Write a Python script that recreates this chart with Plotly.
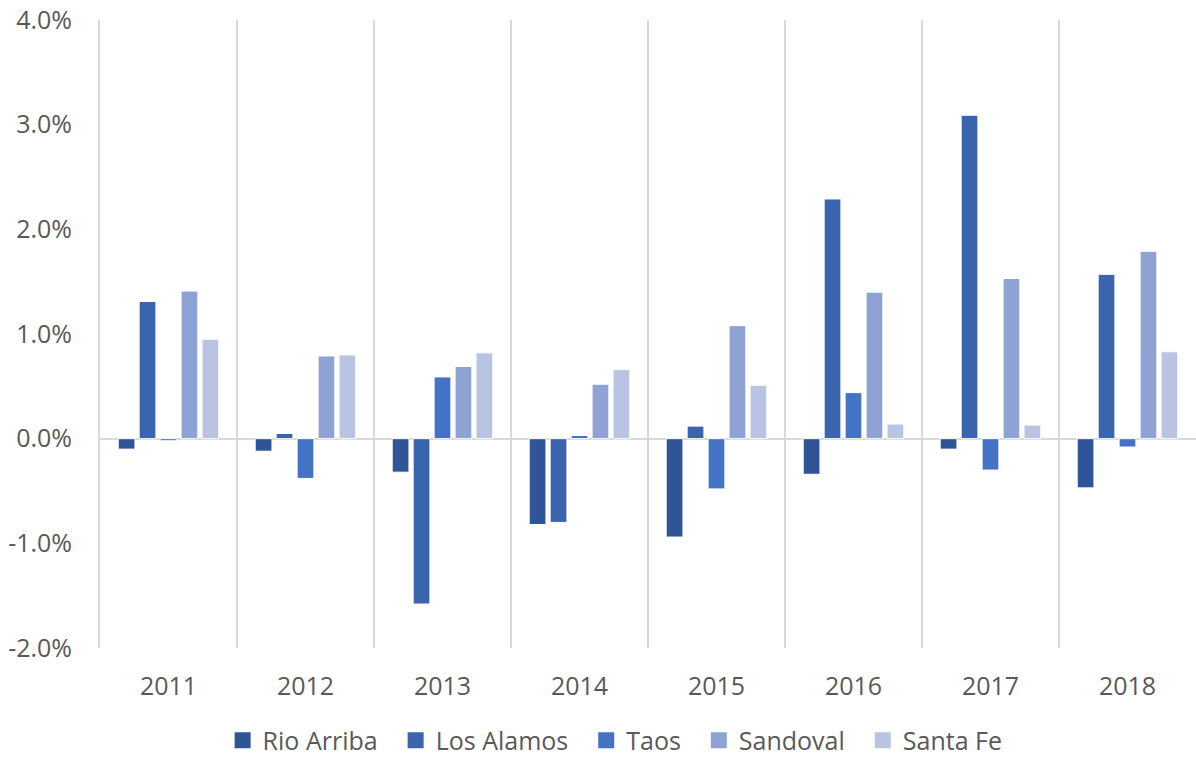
import plotly.graph_objects as go

years = ["2011", "2012", "2013", "2014", "2015", "2016", "2017", "2018"]
rio_arriba = [-0.0010, -0.0012, -0.0032, -0.0082, -0.0094, -0.0034, -0.0010, -0.0047]
los_alamos = [0.0131, 0.0005, -0.0158, -0.0080, 0.0012, 0.0229, 0.0309, 0.0157]
taos = [-0.0002, -0.0038, 0.0059, 0.0003, -0.0048, 0.0044, -0.0030, -0.0008]
sandoval = [0.0141, 0.0079, 0.0069, 0.0052, 0.0108, 0.0140, 0.0153, 0.0179]
santa_fe = [0.0095, 0.0080, 0.0082, 0.0066, 0.0051, 0.0014, 0.0013, 0.0083]

y_tick_values = [-0.02, -0.01, 0.0, 0.01, 0.02, 0.03, 0.04]
y_tick_labels = ["-2.0%", "-1.0%", "0.0%", "1.0%", "2.0%", "3.0%", "4.0%"]

series = [
    ("Rio Arriba", rio_arriba, "#2F5597"),
    ("Los Alamos", los_alamos, "#3A64AD"),
    ("Taos", taos, "#4472C4"),
    ("Sandoval", sandoval, "#8FA2D4"),
    ("Santa Fe", santa_fe, "#B8C4E2"),
]

font_family = "Open Sans, Liberation Sans, sans-serif"
text_color = "#595959"
fsize = 25
pad = "\u00a0\u00a0"

fig = go.Figure()
for name, vals, color in series:
    fig.add_trace(go.Bar(
        x=years, y=vals, name=name, showlegend=False,
        marker=dict(color=color, line=dict(color="white", width=1)),
    ))
# legend entries with larger square swatches
for i, (name, vals, color) in enumerate(series):
    label = name + (pad if i < len(series) - 1 else "")
    fig.add_trace(go.Scatter(
        x=[None], y=[None], mode="markers", name=label,
        marker=dict(symbol="square", size=16, color=color),
    ))

fig.update_layout(
    width=1196, height=759,
    paper_bgcolor="white", plot_bgcolor="white",
    margin=dict(l=100, r=0, t=20, b=111, autoexpand=False),
    barmode="group", bargap=0.235, bargroupgap=0.2,
    font=dict(family=font_family, size=fsize, color=text_color),
    legend=dict(
        orientation="h", x=0.47, xanchor="center", y=-0.184, yanchor="bottom",
        font=dict(size=fsize, color=text_color),
        itemclick=False, traceorder="normal", itemwidth=30,
    ),
    showlegend=True,
)
fig.update_xaxes(
    type="category", tickson="boundaries", showgrid=True, automargin=False,
    gridcolor="#D9D9D9", gridwidth=2, showline=False, ticks="",
    ticklabelstandoff=21,
    tickfont=dict(size=fsize, color=text_color),
)
fig.update_yaxes(
    range=[-0.02, 0.04], tickmode="array", tickvals=y_tick_values, ticktext=y_tick_labels,
    automargin=False,
    showgrid=False, zeroline=True, zerolinecolor="#D9D9D9", zerolinewidth=2,
    showline=True, linecolor="#D9D9D9", linewidth=2, ticks="", ticklabelstandoff=21,
    tickfont=dict(size=fsize, color=text_color),
)

fig.write_html("out.html", config={"displayModeBar": False},
               post_script="document.body.style.margin='0';")
